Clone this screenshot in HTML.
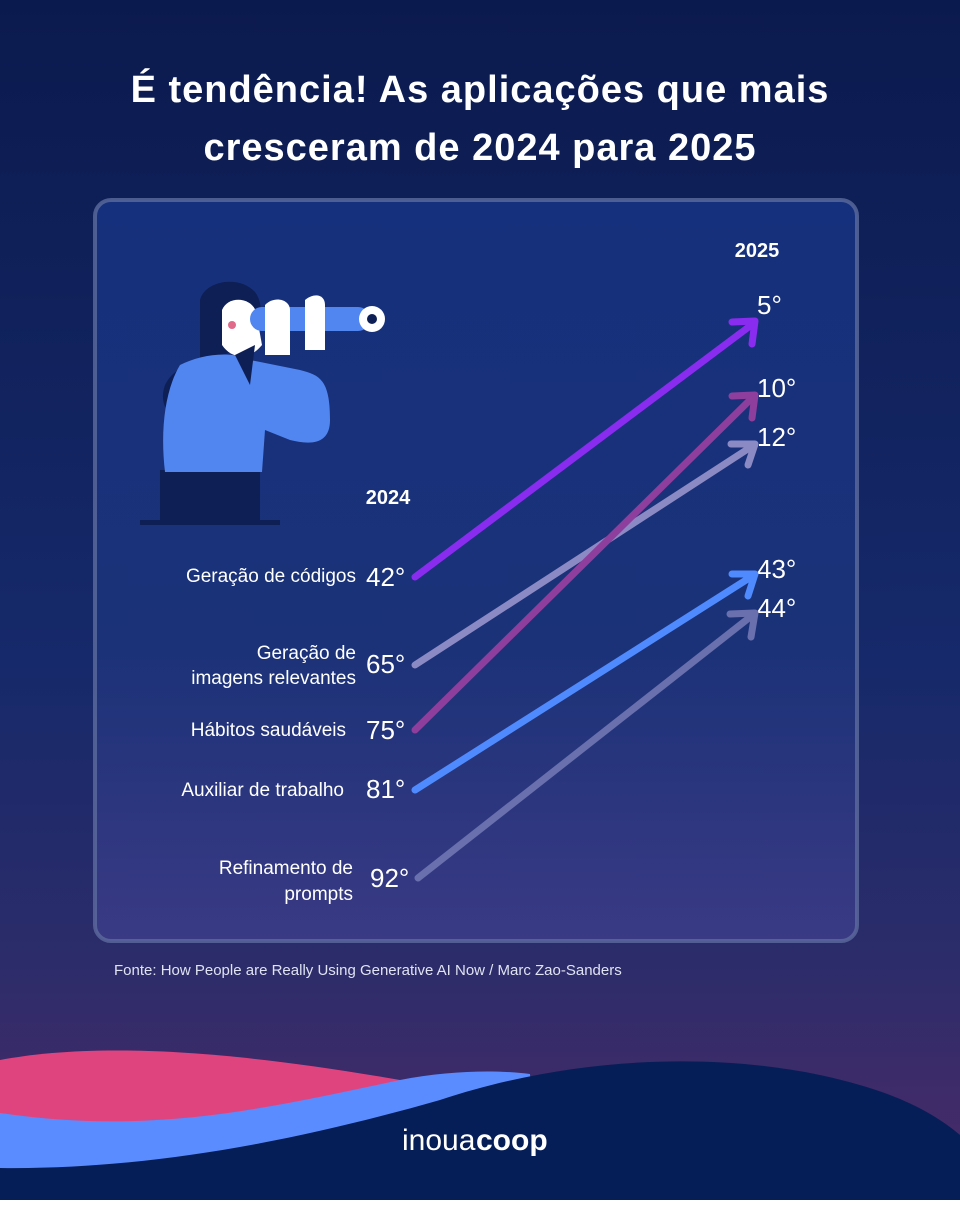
<!DOCTYPE html>
<html><head><meta charset="utf-8"><style>
*{margin:0;padding:0}
body{width:960px;height:1200px;overflow:hidden;font-family:"Liberation Sans",sans-serif;}
</style></head><body>
<svg width="960" height="1200" viewBox="0 0 960 1200" xmlns="http://www.w3.org/2000/svg">
<defs>
<linearGradient id="bg" x1="0" y1="0" x2="0" y2="1">
<stop offset="0" stop-color="#0b1a4e"/><stop offset="0.55" stop-color="#16296a"/><stop offset="0.8" stop-color="#2c2c6a"/><stop offset="1" stop-color="#4d2a68"/>
</linearGradient>
<linearGradient id="pn" x1="0" y1="0" x2="0" y2="1">
<stop offset="0" stop-color="#15307c"/><stop offset="0.6" stop-color="#1b3278"/><stop offset="1" stop-color="#3a3a84"/>
</linearGradient>
</defs>
<rect width="960" height="1200" fill="url(#bg)"/>
<text x="480" y="102" fill="#fff" font-size="38" font-weight="bold" text-anchor="middle" letter-spacing="1">É tendência! As aplicações que mais</text>
<text x="480" y="160" fill="#fff" font-size="38" font-weight="bold" text-anchor="middle" letter-spacing="1">cresceram de 2024 para 2025</text>
<rect x="95" y="200" width="762" height="741" rx="16" fill="url(#pn)" stroke="#5d6c9e" stroke-width="4" stroke-opacity="0.8"/>
<!-- illustration -->
<g>
<path d="M200,300 C205,280 240,275 255,292 C265,305 262,330 250,345 C225,360 180,355 165,385 C158,405 170,420 185,415 L200,400 Z" fill="#0d1f55"/>
<rect x="160" y="470" width="100" height="55" fill="#0d1f55"/>
<rect x="140" y="520" width="140" height="5" fill="#0d1f55"/>
<path d="M180,365 C200,355 230,350 250,360 L300,370 C320,375 330,380 330,420 C330,445 310,445 290,440 L265,430 L262,472 L165,472 C160,430 165,390 180,365 Z" fill="#5186f0"/>
<path d="M222,310 C228,295 252,297 256,312 L262,345 C250,360 232,360 222,345 Z" fill="#fff"/>
<path d="M235,355 L255,345 L250,385 Z" fill="#0d1f55"/>
<rect x="250" y="307" width="120" height="24" rx="12" fill="#5186f0"/>
<circle cx="372" cy="319" r="13" fill="#fff"/><circle cx="372" cy="319" r="5" fill="#0d1f55"/>
<path d="M265,305 C275,295 290,300 290,310 L290,355 L265,355 Z" fill="#fff"/>
<path d="M305,300 C315,292 325,295 325,305 L325,350 L305,350 Z" fill="#fff"/>
<circle cx="232" cy="325" r="4" fill="#e06a8a"/>
</g>
<text x="388" y="504" fill="#fff" font-size="20" font-weight="bold" text-anchor="middle">2024</text>
<text x="757" y="257" fill="#fff" font-size="20" font-weight="bold" text-anchor="middle">2025</text>
<g fill="#fff" font-size="19" text-anchor="end">
<text x="356" y="582">Geração de códigos</text>
<text x="356" y="659">Geração de</text><text x="356" y="684">imagens relevantes</text>
<text x="346" y="736">Hábitos saudáveis</text>
<text x="344" y="796">Auxiliar de trabalho</text>
<text x="353" y="874">Refinamento de</text><text x="353" y="900">prompts</text>
</g>
<g fill="#fff" font-size="26">
<text x="366" y="586">42°</text><text x="366" y="673">65°</text><text x="366" y="739">75°</text><text x="366" y="798">81°</text><text x="370" y="887">92°</text>
<text x="757" y="314">5°</text><text x="757" y="397">10°</text><text x="757" y="446">12°</text><text x="757" y="578">43°</text><text x="757" y="617">44°</text>
</g>
<g stroke-width="7" stroke-linecap="round" stroke-linejoin="round" fill="none">
<g stroke="#6a70ae"><line x1="418" y1="878" x2="754" y2="614"/><path d="M730,614 L755,613 L751,637"/></g>
<g stroke="#8c8ac4"><line x1="415" y1="665" x2="754" y2="445"/><path d="M731,444 L755,444 L748,465"/></g>
<g stroke="#8e3e9c"><line x1="415" y1="730" x2="754" y2="396"/><path d="M732,396 L755,395 L752,418"/></g>
<g stroke="#4f8bff"><line x1="415" y1="790" x2="754" y2="575"/><path d="M732,574 L755,574 L748,596"/></g>
<g stroke="#8a2cf0"><line x1="415" y1="577" x2="754" y2="323"/><path d="M732,322 L755,321 L752,344"/></g>
</g>
<text x="114" y="975" fill="#dfe3f2" font-size="15">Fonte: How People are Really Using Generative AI Now / Marc Zao-Sanders</text>
<!-- waves -->
<path d="M0,1060 C80,1045 200,1045 400,1080 L420,1200 L0,1200 Z" fill="#e0447f"/>
<path d="M0,1113 C150,1135 260,1110 400,1080 C450,1070 500,1070 530,1074 L540,1200 L0,1200 Z" fill="#5a8cff"/>
<path d="M0,1168 C150,1170 300,1140 440,1100 C560,1060 700,1050 820,1075 C890,1090 930,1110 960,1135 L960,1200 L0,1200 Z" fill="#061e57"/>
<text x="402" y="1150" fill="#fff" font-size="30" font-weight="300">inoua</text>
<text x="476" y="1150" fill="#fff" font-size="30" font-weight="bold">coop</text>
</svg>
</body></html>
